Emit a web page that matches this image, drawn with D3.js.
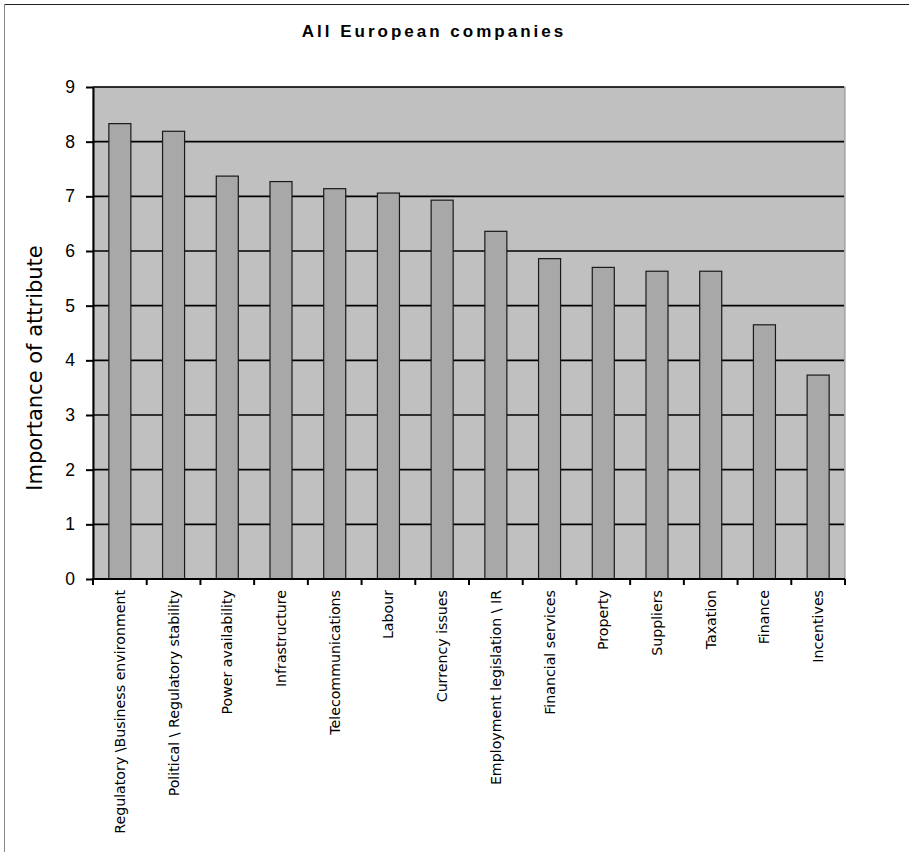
<!DOCTYPE html>
<html>
<head>
<meta charset="utf-8">
<script src="https://cdn.jsdelivr.net/npm/d3@7"></script>
<style>
  body { margin: 0; background: #fff; }
  svg { display: block; }
</style>
</head>
<body>
<div id="chart"></div>
<script>
'use strict';

/*** Data */
const title = "All European companies";
const yLabel = "Importance of attribute";
const categories = [
  "Regulatory \\Business environment",
  "Political \\ Regulatory stability",
  "Power availability",
  "Infrastructure",
  "Telecommunications",
  "Labour",
  "Currency issues",
  "Employment legislation \\ IR",
  "Financial services",
  "Property",
  "Suppliers",
  "Taxation",
  "Finance",
  "Incentives"
];
const values = [8.33, 8.19, 7.37, 7.27, 7.14, 7.06, 6.93, 6.36, 5.86, 5.70, 5.63, 5.63, 4.65, 3.73];
const yTicks = [0, 1, 2, 3, 4, 5, 6, 7, 8, 9];

/*** Dimensions */
const w = 909;
const h = 852;
const plot = { left: 93, right: 845, top: 87, bottom: 579 };

const svg = d3.select("#chart")
  .append("svg")
  .attr("width", w)
  .attr("height", h);

/* outer chart border (right/bottom fall off the picture) */
svg.append("line")
  .attr("x1", 4).attr("x2", w).attr("y1", 4.5).attr("y2", 4.5)
  .attr("stroke", "#222").attr("stroke-width", 1);
svg.append("line")
  .attr("x1", 4.5).attr("x2", 4.5).attr("y1", 4).attr("y2", h)
  .attr("stroke", "#888").attr("stroke-width", 1);

/** Scales */
const xScale = d3.scaleBand()
  .domain(categories)
  .range([plot.left, plot.right])
  .paddingInner(0.59)
  .paddingOuter(0.295);

const yScale = d3.scaleLinear()
  .domain([0, 9])
  .range([plot.bottom, plot.top]);

/** Plot background */
svg.append("rect")
  .attr("x", plot.left)
  .attr("y", plot.top)
  .attr("width", plot.right - plot.left)
  .attr("height", plot.bottom - plot.top)
  .attr("fill", "#c0c0c0")
  .attr("stroke", "#8c8c8c")
  .attr("stroke-width", 1);

/** Gridlines */
svg.append("g")
  .selectAll("line")
  .data(yTicks.filter(d => d > 0))
  .join("line")
  .attr("x1", plot.left)
  .attr("x2", plot.right - 1)
  .attr("y1", d => yScale(d))
  .attr("y2", d => yScale(d))
  .attr("stroke", "#000")
  .attr("stroke-width", 1.6);

/** Bars */
svg.append("g")
  .selectAll("rect")
  .data(values)
  .join("rect")
  .attr("x", (d, i) => xScale(categories[i]))
  .attr("y", d => yScale(d))
  .attr("width", xScale.bandwidth())
  .attr("height", d => yScale(0) - yScale(d))
  .attr("fill", "#a8a8a8")
  .attr("stroke", "#1a1a1a")
  .attr("stroke-width", 1.2);

/** Y axis */
const yAxis = d3.axisLeft(yScale)
  .tickValues(yTicks)
  .tickSize(7)
  .tickSizeOuter(0)
  .tickPadding(11)
  .tickFormat(d3.format("d"));

const gy = svg.append("g")
  .attr("transform", "translate(" + plot.left + ",0)")
  .call(yAxis);
gy.select(".domain").attr("stroke", "#000").attr("stroke-width", 2);
gy.selectAll(".tick line").attr("stroke", "#000").attr("stroke-width", 2);
gy.selectAll(".tick text")
  .attr("font-family", "'Liberation Sans', Arial, sans-serif")
  .attr("font-size", 17.5)
  .attr("fill", "#000");

/** X axis: ticks at band boundaries */
const boundaries = categories.map(c => xScale(c) - xScale.step() * xScale.paddingInner() / 2);
boundaries.push(plot.right);

svg.append("line")
  .attr("x1", plot.left - 1).attr("x2", plot.right)
  .attr("y1", plot.bottom).attr("y2", plot.bottom)
  .attr("stroke", "#000").attr("stroke-width", 2);

svg.append("g")
  .selectAll("line")
  .data(boundaries)
  .join("line")
  .attr("x1", d => d).attr("x2", d => d)
  .attr("y1", plot.bottom).attr("y2", plot.bottom + 6)
  .attr("stroke", "#000").attr("stroke-width", 2);

svg.append("g")
  .selectAll("text")
  .data(categories)
  .join("text")
  .attr("transform", d => "translate(" + (xScale(d) + xScale.bandwidth() / 2 + 5) + "," + (plot.bottom + 11) + ") rotate(-90)")
  .attr("text-anchor", "end")
  .attr("font-family", "'DejaVu Sans', Verdana, sans-serif")
  .attr("font-size", 14.2)
  .attr("fill", "#000")
  .text(d => d);

/** Titles */
svg.append("text")
  .attr("x", 434)
  .attr("y", 37)
  .attr("text-anchor", "middle")
  .attr("font-family", "'Liberation Sans', Arial, sans-serif")
  .attr("font-weight", "bold")
  .attr("font-size", 17)
  .attr("letter-spacing", 3)
  .attr("fill", "#000")
  .text(title);

svg.append("text")
  .attr("transform", "translate(42,368) rotate(-90)")
  .attr("text-anchor", "middle")
  .attr("font-family", "'DejaVu Sans', Verdana, sans-serif")
  .attr("font-size", 21)
  .attr("fill", "#000")
  .text(yLabel);
</script>
</body>
</html>
